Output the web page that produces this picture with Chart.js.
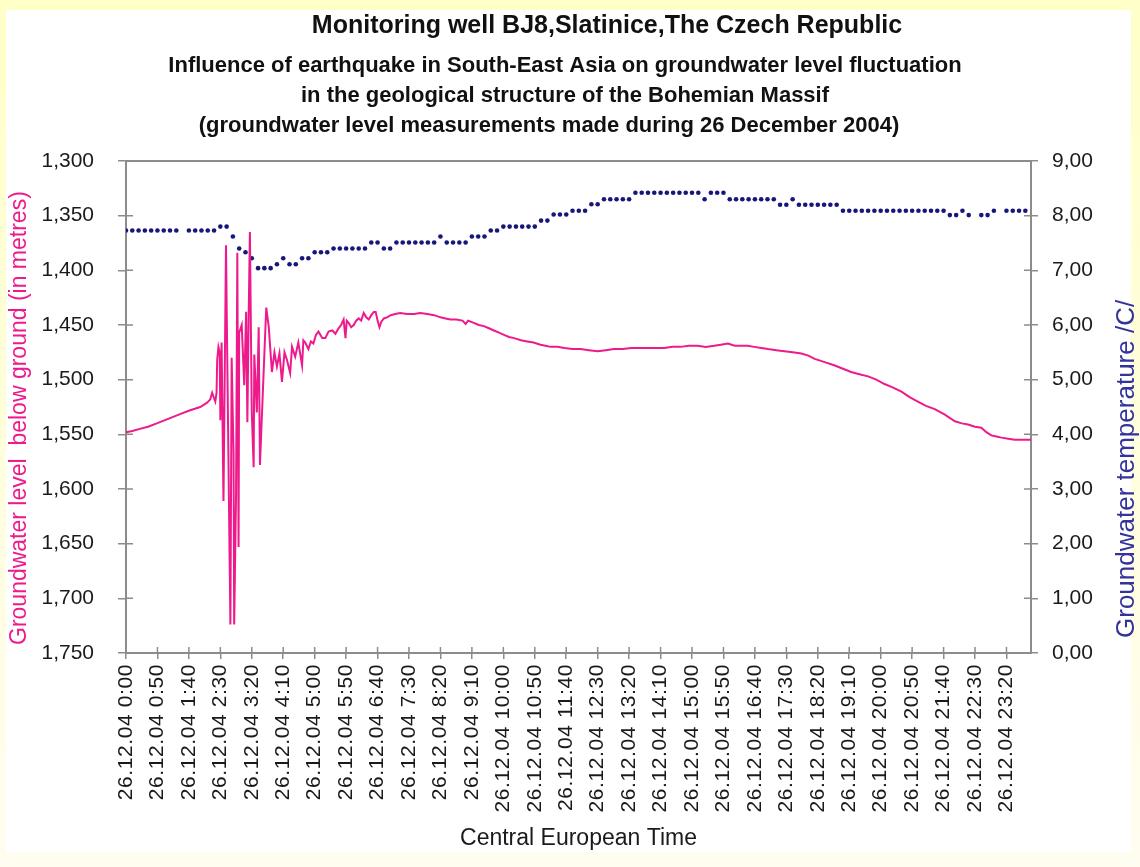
<!DOCTYPE html>
<html>
<head>
<meta charset="utf-8">
<title>Monitoring well BJ8</title>
<script src="https://cdn.jsdelivr.net/npm/chart.js@4.4.1/dist/chart.umd.min.js"></script>
<style>
    html, body { margin: 0; padding: 0; background: #ffffdc; }
    canvas { display: block; }
</style>
</head>
<body>
<canvas id="grafico" width="1140" height="867"></canvas>
<script>
// groundwater level (m below ground) at the given minute of the day
const levelMinutes = [
    0, 10, 22, 35, 49, 62, 75, 88, 102, 118, 129, 134, 137, 140, 142, 144,
    145, 147, 149, 150, 152, 155, 159, 161, 166, 168, 171, 172, 175, 177, 179, 180,
    184, 188, 191, 193, 195, 197, 200, 203, 204, 208, 211, 213, 219, 223, 227, 232,
    236, 240, 244, 248, 252, 256, 261, 264, 269, 274, 280, 282, 285, 290, 294, 298,
    302, 306, 312, 317, 322, 328, 333, 338, 342, 346, 349, 351, 354, 358, 362, 366,
    370, 374, 378, 382, 386, 390, 394, 397, 400, 403, 406, 410, 415, 421, 428, 436,
    447, 458, 468, 479, 490, 500, 508, 516, 525, 535, 540, 544, 553, 561, 569, 577,
    585, 593, 601, 609, 617, 628, 638, 648, 659, 667, 675, 686, 697, 710, 723, 736,
    750, 763, 776, 790, 803, 816, 829, 842, 856, 869, 882, 895, 909, 922, 935, 946,
    957, 968, 978, 988, 999, 1010, 1021, 1034, 1047, 1060, 1074, 1085, 1095, 1111, 1127, 1140,
    1153, 1166, 1180, 1193, 1206, 1219, 1233, 1246, 1259, 1272, 1286, 1302, 1318, 1329, 1339, 1350,
    1360, 1368, 1376, 1384, 1392, 1403, 1413, 1426, 1439
];
const levelValues = [
    1.548, 1.547, 1.545, 1.543, 1.540, 1.537, 1.534, 1.531, 1.528, 1.525, 1.521, 1.518, 1.512, 1.517, 1.520, 1.512,
    1.482, 1.470, 1.475, 1.537, 1.466, 1.611, 1.377, 1.480, 1.724, 1.480, 1.567, 1.724, 1.604, 1.384, 1.653, 1.457,
    1.450, 1.505, 1.438, 1.539, 1.443, 1.365, 1.530, 1.580, 1.477, 1.530, 1.452, 1.578, 1.491, 1.434, 1.452, 1.493,
    1.475, 1.488, 1.476, 1.502, 1.475, 1.482, 1.494, 1.470, 1.479, 1.466, 1.487, 1.464, 1.466, 1.472, 1.465, 1.467,
    1.459, 1.456, 1.462, 1.462, 1.456, 1.455, 1.458, 1.453, 1.450, 1.445, 1.462, 1.446, 1.448, 1.452, 1.450, 1.446,
    1.444, 1.446, 1.439, 1.443, 1.445, 1.441, 1.438, 1.438, 1.446, 1.452, 1.447, 1.444, 1.443, 1.441, 1.440, 1.439,
    1.440, 1.440, 1.439, 1.440, 1.441, 1.443, 1.444, 1.445, 1.445, 1.446, 1.449, 1.446, 1.448, 1.450, 1.451, 1.453,
    1.455, 1.457, 1.459, 1.461, 1.462, 1.464, 1.465, 1.466, 1.468, 1.469, 1.470, 1.470, 1.471, 1.472, 1.472, 1.473,
    1.474, 1.473, 1.472, 1.472, 1.471, 1.471, 1.471, 1.471, 1.471, 1.470, 1.470, 1.469, 1.469, 1.470, 1.469, 1.468,
    1.467, 1.469, 1.469, 1.469, 1.470, 1.471, 1.472, 1.473, 1.474, 1.475, 1.476, 1.478, 1.481, 1.484, 1.487, 1.490,
    1.493, 1.495, 1.497, 1.500, 1.504, 1.507, 1.511, 1.516, 1.520, 1.524, 1.527, 1.532, 1.538, 1.540, 1.541, 1.543,
    1.544, 1.548, 1.551, 1.552, 1.553, 1.554, 1.555, 1.555, 1.555
];

// groundwater temperature (°C), one reading every 10 minutes, null = missing point
const TEMP_STEP = 10;
const tempValues = [
    7.73, 7.73, 7.73, 7.73, 7.73, 7.73, 7.73, 7.73, 7.73, null, 7.73, 7.73, 7.73, 7.73, 7.73, 7.80,
    7.80, 7.62, 7.40, 7.33, 7.22, 7.04, 7.04, 7.04, 7.11, 7.22, 7.11, 7.11, 7.22, 7.22, 7.33, 7.33,
    7.33, 7.40, 7.40, 7.40, 7.40, 7.40, 7.40, 7.51, 7.51, 7.40, 7.40, 7.51, 7.51, 7.51, 7.51, 7.51,
    7.51, 7.51, 7.62, 7.51, 7.51, 7.51, 7.51, 7.62, 7.62, 7.62, 7.73, 7.73, 7.80, 7.80, 7.80, 7.80,
    7.80, 7.80, 7.91, 7.91, 8.02, 8.02, 8.02, 8.09, 8.09, 8.09, 8.21, 8.21, 8.30, 8.30, 8.30, 8.30,
    8.30, 8.42, 8.42, 8.42, 8.42, 8.42, 8.42, 8.42, 8.42, 8.42, 8.42, 8.42, 8.30, 8.42, 8.42, 8.42,
    8.30, 8.30, 8.30, 8.30, 8.30, 8.30, 8.30, 8.30, 8.20, 8.20, 8.30, 8.20, 8.20, 8.20, 8.20, 8.20,
    8.20, 8.20, 8.09, 8.09, 8.09, 8.09, 8.09, 8.09, 8.09, 8.09, 8.09, 8.09, 8.09, 8.09, 8.09, 8.09,
    8.09, 8.09, 8.09, 8.01, 8.01, 8.09, 8.01, null, 8.01, 8.01, 8.09, null, 8.09, 8.09, 8.09, 8.09
];

const timeLabels = [
    '26.12.04 0:00', '26.12.04 0:50', '26.12.04 1:40', '26.12.04 2:30', '26.12.04 3:20',
    '26.12.04 4:10', '26.12.04 5:00', '26.12.04 5:50', '26.12.04 6:40', '26.12.04 7:30',
    '26.12.04 8:20', '26.12.04 9:10', '26.12.04 10:00', '26.12.04 10:50', '26.12.04 11:40',
    '26.12.04 12:30', '26.12.04 13:20', '26.12.04 14:10', '26.12.04 15:00', '26.12.04 15:50',
    '26.12.04 16:40', '26.12.04 17:30', '26.12.04 18:20', '26.12.04 19:10', '26.12.04 20:00',
    '26.12.04 20:50', '26.12.04 21:40', '26.12.04 22:30', '26.12.04 23:20'
];
const LEVEL_MIN = 1.3, LEVEL_MAX = 1.75, LEVEL_STEP = 0.05;
const levelTicks = ['1,300', '1,350', '1,400', '1,450', '1,500', '1,550', '1,600', '1,650', '1,700', '1,750'];
const TEMP_MIN = 0, TEMP_MAX = 9;
const tempTicks = ['0,00', '1,00', '2,00', '3,00', '4,00', '5,00', '6,00', '7,00', '8,00', '9,00'];

const mainTitle = 'Monitoring well BJ8,Slatinice,The Czech Republic';
const subTitle = [
    'Influence of earthquake in South-East Asia on groundwater level fluctuation',
    'in the geological structure of the Bohemian Massif',
    '(groundwater level measurements made during 26 December 2004)'
];
const levelAxisTitle = 'Groundwater level  below ground (in metres)';
const tempAxisTitle = 'Groundwater temperature /C/';

const FONT = '"Liberation Sans", Arial, sans-serif';
const PINK = '#ee1a8c';
const NAVY = '#17177a';
const FRAME = '#8c8c8c';

const levelPoints = levelMinutes.map((m, i) => ({ x: m, y: levelValues[i] }));
const tempPoints = tempValues.map((t, i) => ({ x: i * TEMP_STEP, y: t }));

// yellow page with white sheet
const fundo = {
    id: 'fundo',
    beforeDraw(chart) {
        const { ctx, width, height } = chart;
        ctx.save();
        const g = ctx.createLinearGradient(0, 0, 0, height);
        g.addColorStop(0, '#ffffc8');
        g.addColorStop(1, '#fffdf0');
        ctx.fillStyle = g;
        ctx.fillRect(0, 0, width, height);
        ctx.fillStyle = '#ffffff';
        ctx.fillRect(6, 10, 1125, 842);
        ctx.restore();
    }
};

// plot frame and the inner half of the crossing tick marks
const moldura = {
    id: 'moldura',
    beforeDatasetsDraw(chart) {
        const { ctx, chartArea: a, scales } = chart;
        ctx.save();
        ctx.strokeStyle = FRAME;
        ctx.lineWidth = 1.5;
        ctx.beginPath();
        scales.x.ticks.forEach((t) => {
            const px = scales.x.getPixelForValue(t.value);
            ctx.moveTo(px, a.bottom);
            ctx.lineTo(px, a.bottom - 6);
        });
        scales.y.ticks.forEach((t) => {
            const py = scales.y.getPixelForValue(t.value);
            ctx.moveTo(a.left, py);
            ctx.lineTo(a.left + 7, py);
        });
        scales.y2.ticks.forEach((t) => {
            const py = scales.y2.getPixelForValue(t.value);
            ctx.moveTo(a.right, py);
            ctx.lineTo(a.right - 7, py);
        });
        ctx.stroke();
        ctx.lineWidth = 2;
        ctx.strokeRect(a.left, a.top, a.right - a.left, a.bottom - a.top);
        ctx.restore();
    }
};

// titles and the two vertical axis titles
const textos = {
    id: 'textos',
    afterDraw(chart) {
        const { ctx } = chart;
        ctx.save();
        ctx.letterSpacing = '0px';
        ctx.fillStyle = '#111111';
        ctx.textAlign = 'center';
        ctx.textBaseline = 'alphabetic';
        ctx.font = 'bold 25px ' + FONT;
        ctx.fillText(mainTitle, 607, 33);
        ctx.font = 'bold 22px ' + FONT;
        ctx.fillText(subTitle[0], 565, 72);
        ctx.fillText(subTitle[1], 565, 102);
        ctx.fillText(subTitle[2], 549, 132);

        ctx.textAlign = 'left';
        ctx.textBaseline = 'middle';
        ctx.font = '23px ' + FONT;
        ctx.fillStyle = PINK;
        ctx.translate(20, 645);
        ctx.rotate(-Math.PI / 2);
        ctx.fillText(levelAxisTitle, 0, 0);
        ctx.restore();

        ctx.save();
        ctx.font = '26px ' + FONT;
        ctx.fillStyle = '#333399';
        ctx.textAlign = 'left';
        ctx.textBaseline = 'middle';
        ctx.translate(1127, 638);
        ctx.rotate(-Math.PI / 2);
        ctx.fillText(tempAxisTitle, 0, 0);
        ctx.restore();
    }
};

// the time labels in the reference are drawn a little wider than Arial
function espacarRotulos(scale) {
    if (scale._espacado) return;
    const original = scale.drawLabels;
    scale.drawLabels = function (area) {
        this.ctx.save();
        this.ctx.letterSpacing = '0.6px';
        original.call(this, area);
        this.ctx.restore();
    };
    scale._espacado = true;
}

const ctx = document.getElementById('grafico').getContext('2d');
new Chart(ctx, {
    type: 'line',
    data: {
        datasets: [{
            label: 'Groundwater level',
            data: levelPoints,
            yAxisID: 'y',
            borderColor: PINK,
            borderWidth: 2,
            pointRadius: 0,
            tension: 0,
            fill: false
        }, {
            label: 'Groundwater temperature',
            data: tempPoints,
            yAxisID: 'y2',
            showLine: false,
            pointRadius: 2.3,
            pointBorderWidth: 0,
            pointBackgroundColor: NAVY,
            borderColor: NAVY
        }]
    },
    options: {
        responsive: false,
        devicePixelRatio: 1,
        animation: false,
        events: [],
        layout: { padding: { top: 161, left: 0, right: 0, bottom: 0 } },
        plugins: {
            legend: { display: false },
            tooltip: { enabled: false },
            title: { display: false }
        },
        scales: {
            x: {
                type: 'linear',
                min: 0,
                max: 1439,
                border: { display: false },
                grid: { display: true, drawOnChartArea: false, drawTicks: true, tickLength: 6, color: FRAME, lineWidth: 1.5 },
                ticks: {
                    stepSize: 50,
                    includeBounds: false,
                    autoSkip: false,
                    minRotation: 90,
                    maxRotation: 90,
                    padding: 5,
                    color: '#1a1a1a',
                    font: { family: FONT, size: 21 },
                    callback: (v, i) => timeLabels[i]
                },
                title: {
                    display: true,
                    text: 'Central European Time',
                    color: '#1a1a1a',
                    font: { family: FONT, size: 23 },
                    padding: { top: 0, bottom: 15 }
                },
                afterFit: (s) => { s.height = 214; espacarRotulos(s); }
            },
            y: {
                type: 'linear',
                position: 'left',
                reverse: true,
                min: LEVEL_MIN,
                max: LEVEL_MAX,
                border: { display: false },
                grid: { display: true, drawOnChartArea: false, drawTicks: true, tickLength: 8, color: FRAME, lineWidth: 1.5 },
                ticks: {
                    stepSize: LEVEL_STEP,
                    padding: 24,
                    color: '#1a1a1a',
                    font: { family: FONT, size: 21 },
                    callback: (v) => levelTicks[Math.round((v - LEVEL_MIN) / LEVEL_STEP)]
                },
                afterFit: (s) => { s.width = 126; }
            },
            y2: {
                type: 'linear',
                position: 'right',
                min: TEMP_MIN,
                max: TEMP_MAX,
                border: { display: false },
                grid: { display: true, drawOnChartArea: false, drawTicks: true, tickLength: 7, color: FRAME, lineWidth: 1.5 },
                ticks: {
                    stepSize: 1,
                    padding: 14,
                    color: '#1a1a1a',
                    font: { family: FONT, size: 21 },
                    callback: (v) => tempTicks[Math.round(v - TEMP_MIN)]
                },
                afterFit: (s) => { s.width = 109; }
            }
        }
    },
    plugins: [fundo, moldura, textos]
});
</script>
</body>
</html>
